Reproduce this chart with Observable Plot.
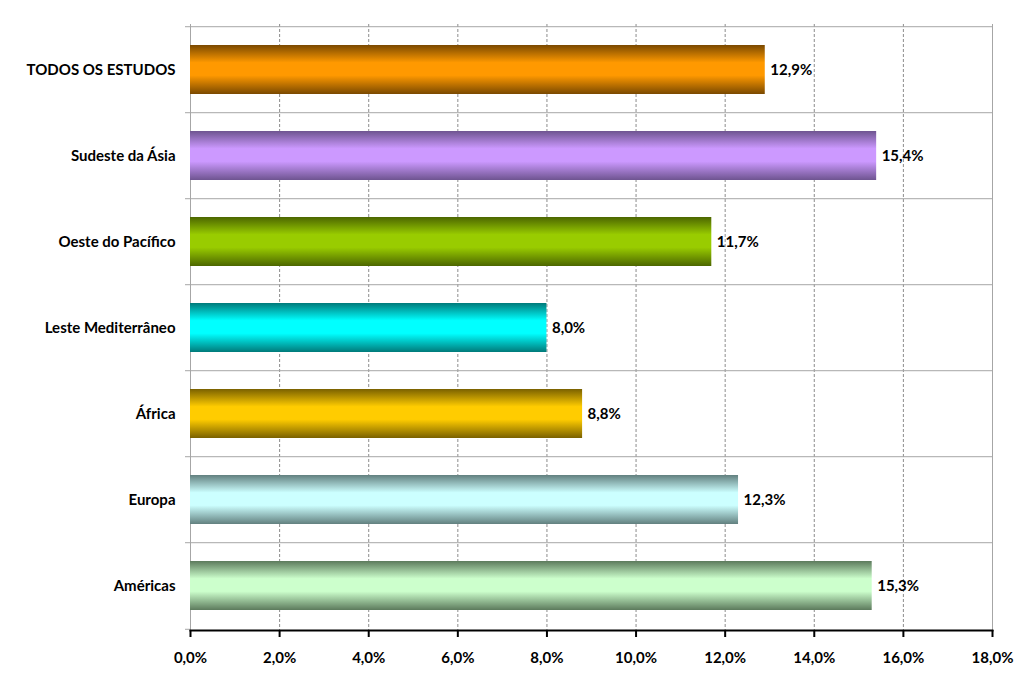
<!DOCTYPE html>
<html><head><meta charset="utf-8">
<script src="https://cdn.jsdelivr.net/npm/d3@7"></script>
<script src="https://cdn.jsdelivr.net/npm/@observablehq/plot@0.6"></script>
<style>body{margin:0;background:#fff} #chart{width:1024px;height:696px}</style>
</head><body><div id="chart"></div>
<script>
const categories = ["TODOS OS ESTUDOS", "Sudeste da Ásia", "Oeste do Pacífico", "Leste Mediterrâneo", "África", "Europa", "Américas"];
const values = [12.9, 15.4, 11.7, 8.0, 8.8, 12.3, 15.3];
const xTicks = [0, 2, 4, 6, 8, 10, 12, 14, 16, 18];
const barColors = ["#FF9900", "#CC99FF", "#99CC00", "#00FFFF", "#FFCC00", "#CCFFFF", "#CCFFCC"];
const edgeColors = ["#7A4900", "#6E5490", "#4C6600", "#007A7A", "#7A6100", "#62807F", "#5C7A5C"];

const data = categories.map((c, i) => ({category: c, value: values[i], grad: `url(#grad${i})`}));
const fmt = d => d.toFixed(1).replace(".", ",") + "%";

const W = 1024, H = 696, mt = 24, mb = 66, ml = 190, mr = 32;
const step = (H - mt - mb) / categories.length;
const pIn = 0.434;
const leftTick = -5 * 18 / (W - ml - mr);
const grid = "#a6a6a6";

const plot = Plot.plot({
  width: W, height: H,
  marginTop: mt, marginBottom: mb, marginLeft: ml, marginRight: mr,
  style: {fontFamily: "Lato, sans-serif", fontSize: "15px", fontWeight: "bold", color: "#000", background: "#fff"},
  x: {domain: [0, 18], ticks: xTicks, tickFormat: fmt, label: null},
  y: {domain: categories, paddingInner: pIn, paddingOuter: pIn / 2, label: null},
  color: {type: "identity"},
  marks: [
    Plot.gridX(xTicks.slice(1, -1), {stroke: "#8c8c8c", strokeOpacity: 1, strokeDasharray: "3,2"}),
    Plot.ruleY(categories, {y: d => d, x1: leftTick, x2: 18, dy: -step / 2, stroke: grid}),
    Plot.ruleY([categories[categories.length - 1]], {y: d => d, x1: leftTick, x2: 0, dy: step / 2, stroke: grid}),
    Plot.ruleX([0, 18], {stroke: grid}),
    Plot.barX(data, {x: "value", y: "category", fill: "grad"}),
    Plot.text(data, {x: "value", y: "category", text: d => fmt(d.value), textAnchor: "start", dx: 5, fontSize: 15, fontWeight: "bold", fill: "#000"}),
    Plot.frame({anchor: "bottom", stroke: "#000", strokeWidth: 2}),
    Plot.axisX({ticks: xTicks, tickFormat: fmt, tickSize: 7, tickPadding: 15, strokeWidth: 2, fontSize: 15, fontWeight: "bold", label: null}),
    Plot.axisY({tickSize: 0, tickPadding: 15, fontSize: 15, fontWeight: "bold", label: null})
  ]
});

const svg = d3.select(plot.tagName.toLowerCase() === "svg" ? plot : plot.querySelector("svg"));
const defs = svg.insert("defs", ":first-child");
barColors.forEach((c, i) => {
  const g = defs.append("linearGradient").attr("id", `grad${i}`).attr("x1", 0).attr("y1", 0).attr("x2", 0).attr("y2", 1);
  [[0, edgeColors[i]], [0.36, c], [0.62, c], [1, edgeColors[i]]].forEach(([o, col]) => g.append("stop").attr("offset", o).attr("stop-color", col));
});
document.getElementById("chart").appendChild(plot);
</script>
</body></html>
